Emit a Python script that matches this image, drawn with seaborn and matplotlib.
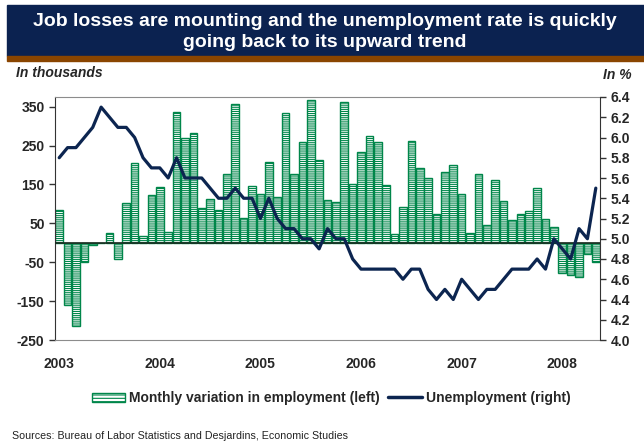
import numpy as np
import pandas as pd
import matplotlib.pyplot as plt
import matplotlib.patches as mpatches
from matplotlib.lines import Line2D
from matplotlib.ticker import FormatStrFormatter
import seaborn as sns

# Monthly data, Jan 2003 - May 2008
employment = [85, -160, -213, -49, -6, 0, 26, -42, 103, 205, 18, 123,
              143, 27, 336, 270, 283, 89, 113, 85, 177, 358, 63, 145,
              126, 208, 119, 333, 178, 259, 367, 212, 109, 104, 361, 152,
              233, 274, 260, 148, 22, 93, 263, 192, 166, 73, 183, 199,
              126, 26, 178, 47, 162, 108, 58, 75, 82, 140, 60, 41,
              -78, -83, -89, -29, -49]
unemployment = [5.8, 5.9, 5.9, 6.0, 6.1, 6.3, 6.2, 6.1, 6.1, 6.0, 5.8, 5.7,
                5.7, 5.6, 5.8, 5.6, 5.6, 5.6, 5.5, 5.4, 5.4, 5.5, 5.4, 5.4,
                5.2, 5.4, 5.2, 5.1, 5.1, 5.0, 5.0, 4.9, 5.1, 5.0, 5.0, 4.8,
                4.7, 4.7, 4.7, 4.7, 4.7, 4.6, 4.7, 4.7, 4.5, 4.4, 4.5, 4.4,
                4.6, 4.5, 4.4, 4.5, 4.5, 4.6, 4.7, 4.7, 4.7, 4.8, 4.7, 5.0,
                4.9, 4.8, 5.1, 5.0, 5.5]
years = ['2003', '2004', '2005', '2006', '2007', '2008']
left_ticks = [-250, -150, -50, 50, 150, 250, 350]

df = pd.DataFrame({'month': np.arange(len(employment)),
                   'employment': employment,
                   'unemployment': unemployment})

sns.set_style('ticks')
plt.rcParams['font.family'] = ['Liberation Sans', 'DejaVu Sans']
plt.rcParams['hatch.linewidth'] = 0.8
plt.rcParams['axes.unicode_minus'] = False

green = '#00864a'
navy = '#0c2550'

fig = plt.figure(figsize=(6.44, 4.41), dpi=100)
ax = fig.add_axes([55 / 644, 1 - 340 / 441, 545 / 644, 243 / 441])

# Title band with brown stripe underneath
fig.add_artist(mpatches.Rectangle((7 / 644, 1 - 56 / 441), 1, 51 / 441,
                                  transform=fig.transFigure, color='#0b2250', zorder=0))
fig.add_artist(mpatches.Rectangle((7 / 644, 1 - 61 / 441), 1, 5 / 441,
                                  transform=fig.transFigure, color='#8a4500', zorder=0))
fig.text(0.505, 1 - 32 / 441,
         'Job losses are mounting and the unemployment rate is quickly\ngoing back to its upward trend',
         ha='center', va='center', color='white', fontsize=14, fontweight='bold', linespacing=1.35)

fig.text(16 / 644, 1 - 73 / 441, 'In thousands', fontsize=10, fontweight='bold',
         style='italic', va='center')
fig.text(632 / 644, 1 - 75 / 441, 'In %', fontsize=10, fontweight='bold',
         style='italic', va='center', ha='right')

# Bars: monthly variation in employment (left axis)
sns.barplot(data=df, x='month', y='employment', color='white', edgecolor=green,
            linewidth=1, hatch='--------', width=0.9, ax=ax)
ax.axhline(0, color='#1a2a1f', lw=1.2, zorder=3)
ax.set_xlim(-0.5, len(employment) - 0.5)
ax.set_ylim(-250, 375)
ax.set_yticks(left_ticks)
ax.set_xticks(range(0, len(employment), 12))
ax.set_xticklabels(years)
ax.set_xlabel('')
ax.set_ylabel('')
ax.tick_params(axis='x', length=0, pad=12, labelsize=10)
ax.tick_params(axis='y', length=4, width=1, labelsize=10, color='#333333')
for lab in ax.get_xticklabels() + ax.get_yticklabels():
    lab.set_fontweight('bold')
ax.spines['top'].set_color('#8c8c8c')
ax.spines['bottom'].set_color('#8c8c8c')
ax.spines['left'].set_color('#333333')
ax.spines['right'].set_visible(False)

# Line: unemployment rate (right axis)
ax2 = ax.twinx()
sns.lineplot(x=df['month'], y=df['unemployment'], ax=ax2, color=navy, lw=2.3)
ax2.set_ylim(4.0, 6.4)
ax2.set_yticks(np.arange(4.0, 6.41, 0.2))
ax2.yaxis.set_major_formatter(FormatStrFormatter('%.1f'))
ax2.set_ylabel('')
ax2.tick_params(axis='y', length=4, width=1, labelsize=10, color='#333333')
for lab in ax2.get_yticklabels():
    lab.set_fontweight('bold')
for s in ['top', 'bottom', 'left']:
    ax2.spines[s].set_visible(False)
ax2.spines['right'].set_color('#333333')

# Legend below the chart
handles = [mpatches.Patch(facecolor='white', edgecolor=green, hatch='-----', lw=1),
           Line2D([], [], color=navy, lw=2.5)]
fig.legend(handles, ['Monthly variation in employment (left)', 'Unemployment (right)'],
           loc='center', bbox_to_anchor=(0.514, 1 - 398 / 441), ncol=2, frameon=False,
           prop={'weight': 'bold', 'size': 10}, handlelength=2.4, handleheight=0.6,
           columnspacing=0.6, handletextpad=0.3)

fig.text(12 / 644, 1 - 436 / 441,
         'Sources: Bureau of Labor Statistics and Desjardins, Economic Studies',
         fontsize=7.7, va='center', color='#222222')

fig.savefig('out.png', dpi=100)
